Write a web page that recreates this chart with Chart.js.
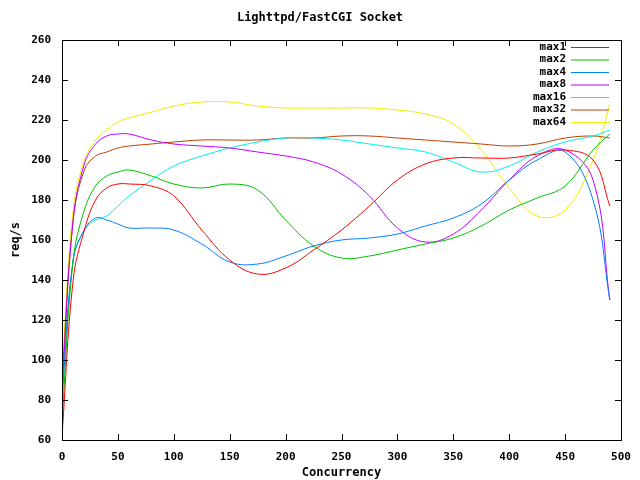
<!DOCTYPE html>
<html>
<head>
<script src="https://cdn.jsdelivr.net/npm/chart.js@4"></script>
<style>body{margin:0;background:#fff}canvas{display:block}</style>
</head>
<body>
<canvas id="c" width="640" height="480"></canvas>
<script>
// Concurrency levels (shared x) and req/s per series
const concurrency = [0,10,20,30,40,50,60,80,100,125,150,175,200,225,250,275,300,325,350,375,400,425,450,475,490];
const max1  = [62,140,165,180,186,188,188,187,182,165,150,143,146,155,165,177,190,198,201,201,201,203,205,200,177];
const max2  = [70,150,175,187,192,194,195,192,188,186,188,185,170,157,151,152,155,158,161,167,175,181,187,205,213];
const max4  = [80,150,165,171,170,168,166,166,165,158,149,148,152,157,160,161,163,167,171,178,190,200,204,180,130];
const max8  = [85,170,198,208,212,213,213,210,208,207,206,204,202,199,193,182,166,159,163,175,190,202,205,190,130];
const max16 = [85,150,165,170,172,177,182,190,197,202,206,209,211,211,210,208,206,204,199,194,197,204,209,212,215];
const max32 = [90,170,195,202,204,206,207,208,209,210,210,210,211,211,212,212,211,210,209,208,207,208,211,212,211];
const max64 = [95,175,200,210,215,219,221,224,227,229,229,227,226,226,226,226,225,223,218,205,186,172,175,200,228];

const seriesNames = ['max1','max2','max4','max8','max16','max32','max64'];
const seriesData = [max1,max2,max4,max8,max16,max32,max64];
const colors = ['#ff0000','#00c000','#0080ff','#c000ff','#00eeee','#c04000','#eeee00'];
const font = '"DejaVu Sans Mono", monospace';

const datasets = seriesNames.map((name, i) => ({
  label: name,
  data: concurrency.map((x, j) => ({ x: x, y: seriesData[i][j] })),
  borderColor: colors[i],
  borderWidth: 1,
  pointRadius: 0,
  showLine: true,
  tension: 0.4,
  fill: false
}));

const frame = {
  id: 'frame',
  afterDraw(chart) {
    const { ctx, chartArea: a } = chart;
    ctx.save();
    ctx.strokeStyle = '#000';
    ctx.lineWidth = 1;
    ctx.strokeRect(a.left + 0.5, a.top + 0.5, a.right - a.left, a.bottom - a.top);
    // inward ticks
    const xs = chart.scales.x, ys = chart.scales.y;
    ctx.beginPath();
    for (let v = 0; v <= 500; v += 50) {
      const p = Math.round(xs.getPixelForValue(v)) + 0.5;
      ctx.moveTo(p, a.bottom); ctx.lineTo(p, a.bottom - 6);
      ctx.moveTo(p, a.top); ctx.lineTo(p, a.top + 6);
    }
    for (let v = 60; v <= 260; v += 20) {
      const p = Math.round(ys.getPixelForValue(v)) + 0.5;
      ctx.moveTo(a.left, p); ctx.lineTo(a.left + 6, p);
      ctx.moveTo(a.right, p); ctx.lineTo(a.right - 6, p);
    }
    ctx.stroke();
    // title and axis labels
    ctx.fillStyle = '#000';
    ctx.font = 'bold 12px ' + font;
    ctx.textAlign = 'center';
    ctx.textBaseline = 'middle';
    ctx.fillText('Lighttpd/FastCGI Socket', 320, 18);
    ctx.fillText('Concurrency', (a.left + a.right) / 2, 473);
    ctx.save();
    ctx.translate(16, 240);
    ctx.rotate(-Math.PI / 2);
    ctx.fillText('req/s', 0, 0);
    ctx.restore();
    // legend
    ctx.font = 'bold 11px ' + font;
    ctx.textAlign = 'right';
    chart.data.datasets.forEach((d, i) => {
      const y = 47 + i * 12.5;
      ctx.fillStyle = '#000';
      ctx.fillText(d.label, 566, y);
      ctx.strokeStyle = d.borderColor;
      ctx.beginPath();
      ctx.moveTo(571, y + 0.5); ctx.lineTo(609, y + 0.5);
      ctx.stroke();
    });
    ctx.restore();
  }
};

new Chart(document.getElementById('c'), {
  type: 'scatter',
  data: { datasets },
  options: {
    responsive: false,
    animation: false,
    layout: { padding: { top: 40, right: 19, left: 0, bottom: 0 } },
    plugins: { legend: { display: false }, tooltip: { enabled: false } },
    scales: {
      x: {
        type: 'linear', min: 0, max: 500,
        afterFit(s) { s.height = 40; },
        grid: { display: false },
        border: { display: false },
        ticks: { stepSize: 50, color: '#000', font: { family: font, size: 11, weight: 'bold' }, maxRotation: 0 }
      },
      y: {
        min: 60, max: 260,
        afterFit(s) { s.width = 62; },
        grid: { display: false },
        border: { display: false },
        ticks: { stepSize: 20, color: '#000', font: { family: font, size: 11, weight: 'bold' } }
      }
    }
  },
  plugins: [frame]
});
</script>
</body>
</html>
